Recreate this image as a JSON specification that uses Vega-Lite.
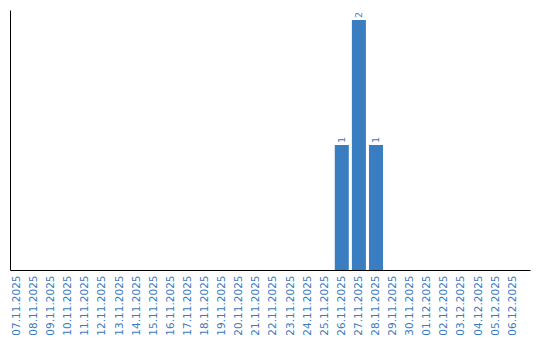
{
  "$schema": "https://vega.github.io/schema/vega-lite/v6.json",
  "autosize": "none",
  "width": 520,
  "height": 260,
  "padding": {"left": 10, "top": 10, "right": 10, "bottom": 70},
  "background": "white",
  "config": {"view": {"stroke": null}, "font": "DejaVu Sans"},
  "data": {"values": [
    {"date": "07.11.2025", "count": 0},
    {"date": "08.11.2025", "count": 0},
    {"date": "09.11.2025", "count": 0},
    {"date": "10.11.2025", "count": 0},
    {"date": "11.11.2025", "count": 0},
    {"date": "12.11.2025", "count": 0},
    {"date": "13.11.2025", "count": 0},
    {"date": "14.11.2025", "count": 0},
    {"date": "15.11.2025", "count": 0},
    {"date": "16.11.2025", "count": 0},
    {"date": "17.11.2025", "count": 0},
    {"date": "18.11.2025", "count": 0},
    {"date": "19.11.2025", "count": 0},
    {"date": "20.11.2025", "count": 0},
    {"date": "21.11.2025", "count": 0},
    {"date": "22.11.2025", "count": 0},
    {"date": "23.11.2025", "count": 0},
    {"date": "24.11.2025", "count": 0},
    {"date": "25.11.2025", "count": 0},
    {"date": "26.11.2025", "count": 1},
    {"date": "27.11.2025", "count": 2},
    {"date": "28.11.2025", "count": 1},
    {"date": "29.11.2025", "count": 0},
    {"date": "30.11.2025", "count": 0},
    {"date": "01.12.2025", "count": 0},
    {"date": "02.12.2025", "count": 0},
    {"date": "03.12.2025", "count": 0},
    {"date": "04.12.2025", "count": 0},
    {"date": "05.12.2025", "count": 0},
    {"date": "06.12.2025", "count": 0}
  ]},
  "encoding": {
    "x": {
      "field": "date", "type": "nominal", "sort": null,
      "scale": {"paddingInner": 0.18, "paddingOuter": 0.3, "align": 0},
      "axis": {"title": null, "labelAngle": -90, "labelColor": "#3a7bbf", "labelFontSize": 10.5, "labelPadding": 5, "ticks": false, "domainColor": "#000000", "domainWidth": 1, "grid": false}
    },
    "y": {
      "field": "count", "type": "quantitative",
      "scale": {"domain": [0, 2.08], "nice": false},
      "axis": {"title": null, "labels": false, "ticks": false, "grid": false, "domainColor": "#000000", "domainWidth": 1}
    }
  },
  "layer": [
    {"mark": {"type": "bar", "color": "#3b7dc1"}},
    {
      "transform": [{"filter": "datum.count > 0"}],
      "mark": {"type": "text", "angle": -90, "align": "left", "baseline": "middle", "dx": 2, "fontSize": 9.5, "color": "#3a7bbf"},
      "encoding": {"text": {"field": "count", "type": "quantitative"}}
    }
  ]
}
